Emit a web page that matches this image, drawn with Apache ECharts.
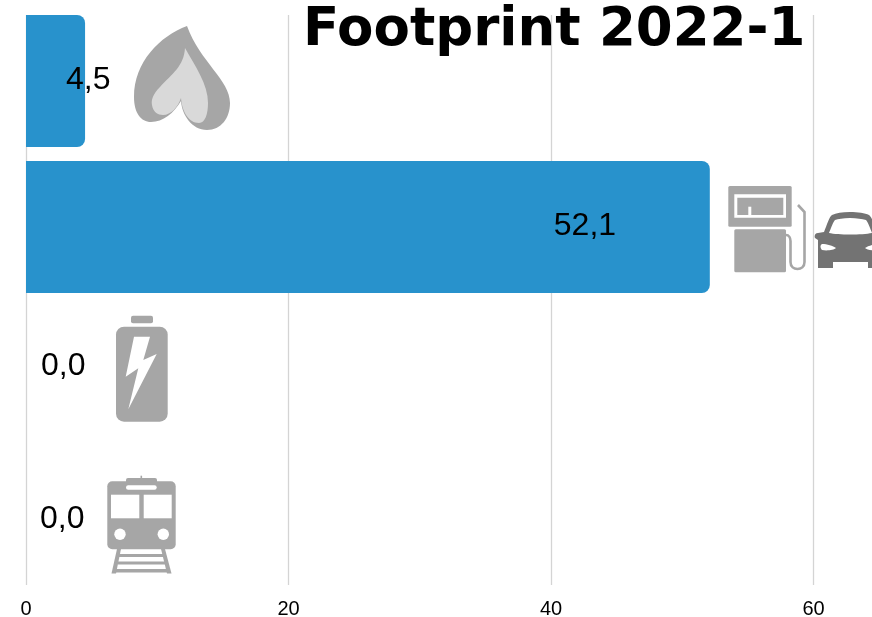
<!DOCTYPE html>
<html><head><meta charset="utf-8">
<style>html,body{margin:0;padding:0;background:#fff}#c{width:872px;height:617px}</style>
<script src="https://cdn.jsdelivr.net/npm/echarts@6/dist/echarts.min.js"></script>
</head><body><div id="c"></div>
<script>
const categories = ['Gas', 'Fuel', 'Electric', 'Train'];
const values = [4.5, 52.1, 0.0, 0.0];
const titleText = 'Footprint 2022-1';
const xTicks = [0, 20, 40, 60];
const labelOffsets = [[-19, -1], [-156, -1], [15, -7], [14, 0]];
const GRAY = '#a6a6a6', LIGHT = '#d9d9d9', DARK = '#737373', WHITE = '#ffffff';

function p(d, fill) {
  return { type: 'path', shape: { pathData: d }, style: { fill: fill } };
}
function line(d, color, w) {
  return { type: 'path', shape: { pathData: d }, style: { fill: 'none', stroke: color, lineWidth: w } };
}
function rr(x, y, w, h, r, fill) {
  return { type: 'rect', shape: { x, y, width: w, height: h, r }, style: { fill } };
}
const icons = [
  // flame
  p('M187 26C160 36 134 62 134 97C134 113 141 122 151 122C163 122 174 113 181 101C182 115 192 130 207 130C221 130 230 118 230 103C230 80 200 62 187 26Z', GRAY),
  p('M185 48C184 66 172 74 160 87C153 94 151 100 152 105C153 112 158 115 163 115C171 115 178 107 181 98C182 112 189 123 199 123C205 123 208 114 208 103C208 84 195 66 185 48Z', LIGHT),
  // pump
  rr(728.3, 186, 63.4, 40.7, 1.5, GRAY),
  rr(734.3, 194.3, 51.7, 23.4, 0, WHITE),
  rr(737.3, 197.7, 46, 17.3, 0, GRAY),
  rr(748.3, 206.7, 3, 9, 0, WHITE),
  rr(734.3, 229.3, 51.7, 43, 1.5, GRAY),
  line('M786 235C789 235 790.5 238 790.5 241L790.5 262C790.5 267 794 269 797.5 269C801 269 804.5 267 804.5 262L804.5 212L798 205', GRAY, 2.6),
  // car
  p('M850 212C842 212 836 213 832 215C829 217 827 225 824 232L818 233C815 233 814 236 815 238L818 240L818 268L833 268L833 262L868 262L868 268L883 268L883 240L886 238C887 236 886 233 883 233L877 232C874 225 872 217 869 215C865 213 858 212 850 212Z', DARK),
  p('M850 218C843 218 838 219 835 220C833 222 831 228 829 233C838 235 862 235 872 233C870 228 868 222 866 220C862 219 857 218 850 218Z', WHITE),
  p('M822 244C827 244 833 246 836 248C834 250 827 251 822 250C820 248 820 245 822 244Z', WHITE),
  p('M879 244C874 244 868 246 865 248C867 250 874 251 879 250C881 248 881 245 879 244Z', WHITE),
  // battery
  rr(131, 315.7, 22, 7.6, 2, GRAY),
  rr(116, 326.7, 51.7, 95, 8, GRAY),
  p('M134 336.7L150 336.7L143.3 360L156.7 354L128.3 409.3L138.3 368.3L125.7 376.7Z', WHITE),
  // train
  rr(140.5, 475.7, 1.6, 4, 0, GRAY),
  rr(126, 478, 31, 6, 2, GRAY),
  rr(107.3, 481.3, 68.4, 68, 5, GRAY),
  rr(126, 485.3, 30.7, 4.4, 2.2, WHITE),
  rr(111, 494.7, 28.3, 23.6, 0, WHITE),
  rr(143.7, 494.7, 28, 23.6, 0, WHITE),
  { type: 'circle', shape: { cx: 120, cy: 534.3, r: 5.7 }, style: { fill: WHITE } },
  { type: 'circle', shape: { cx: 163.3, cy: 534.3, r: 5.7 }, style: { fill: WHITE } },
  p('M117 549L121 549L116 573.5L111.5 573.5Z', GRAY),
  p('M161 549L165 549L171.5 573.5L167 573.5Z', GRAY),
  rr(119, 554, 44, 3, 0, GRAY),
  rr(118, 561.5, 47, 3, 0, GRAY),
  rr(116, 569, 51, 3.5, 0, GRAY)
];

const chart = echarts.init(document.getElementById('c'), null, { renderer: 'canvas' });
chart.setOption({
  animation: false,
  backgroundColor: '#fff',
  title: {
    text: titleText, left: 303, top: 5, padding: 0,
    textStyle: { fontFamily: 'DejaVu Sans', fontWeight: 'bold', fontSize: 53, color: '#000' }
  },
  grid: [
    { left: 26, right: 58.5, top: 15, height: 570, outerBoundsMode: 'none' },
    { left: 26, right: 58.5, top: 8, height: 584, outerBoundsMode: 'none' }
  ],
  xAxis: [
    {
      gridIndex: 0, type: 'value', min: xTicks[0], max: xTicks[xTicks.length - 1], interval: xTicks[1] - xTicks[0],
      axisLine: { show: false }, axisTick: { show: false },
      axisLabel: { fontFamily: 'Liberation Sans', fontSize: 20, color: '#000', margin: 14 },
      splitLine: { show: true, lineStyle: { color: '#d4d4d4', width: 1.3 } }
    },
    { gridIndex: 1, type: 'value', min: xTicks[0], max: xTicks[xTicks.length - 1], show: false }
  ],
  yAxis: [
    { gridIndex: 0, type: 'category', show: false, data: categories, inverse: true },
    { gridIndex: 1, type: 'category', show: false, data: categories, inverse: true }
  ],
  series: [{
    type: 'bar', xAxisIndex: 1, yAxisIndex: 1, barWidth: 132,
    itemStyle: { color: '#2892cc', borderRadius: [0, 8, 8, 0] },
    data: values.map((v, i) => ({
      value: v,
      label: {
        show: true, position: 'right', distance: 0, offset: labelOffsets[i],
        formatter: () => v.toFixed(1).replace('.', ','),
        fontFamily: 'Liberation Sans', fontSize: 32, color: '#000'
      }
    }))
  }, {
    type: 'custom', xAxisIndex: 1, yAxisIndex: 1, silent: true, clip: false, z: 5,
    data: [[0, categories[0]]],
    renderItem: () => ({ type: 'group', children: icons })
  }]
});
</script></body></html>
